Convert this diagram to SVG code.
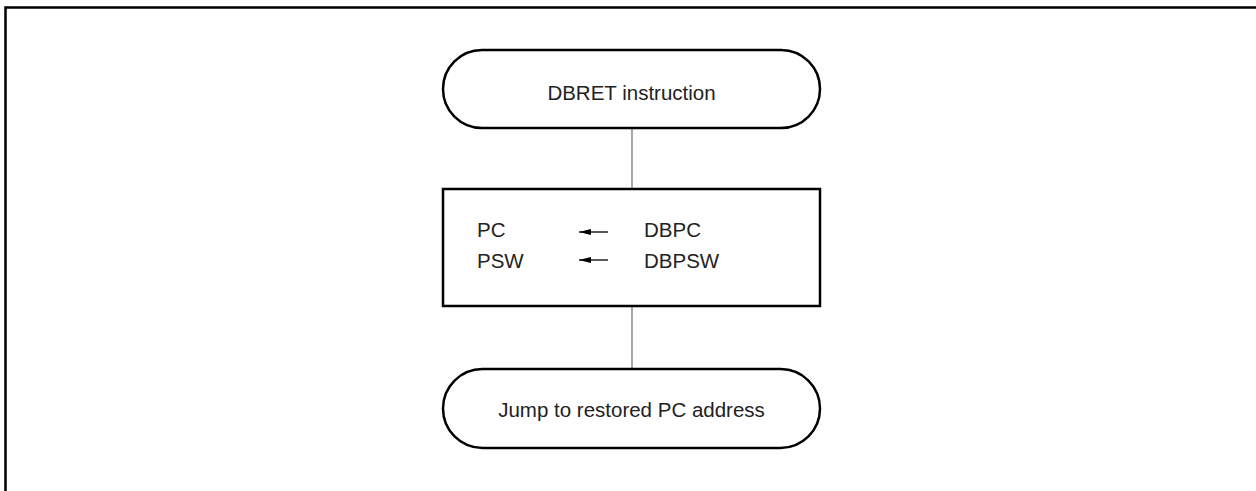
<svg xmlns="http://www.w3.org/2000/svg" width="1256" height="491" viewBox="0 0 1256 491">
<style>
.frame{fill:none;stroke:#000;stroke-width:2.5}
.box{fill:#fff;stroke:#000;stroke-width:2.5}
.conn{fill:none;stroke:#777;stroke-width:1.3}
.arr{fill:none;stroke:#000;stroke-width:1.3}
text{font-family:"Liberation Sans",Arial,sans-serif;font-size:20.5px;fill:#222}
.c{text-anchor:middle}
</style>
<defs>
<marker id="ah" markerWidth="12" markerHeight="6" refX="12" refY="3" orient="auto" markerUnits="userSpaceOnUse">
<path d="M0,0 L12,3 L0,6 Z" fill="#000"/>
</marker>
</defs>
<path class="frame" d="M5.5,491 V7.5 H1256"/>
<g id="connectors">
<line class="conn" x1="632" y1="128" x2="632" y2="189"/>
<line class="conn" x1="632" y1="306" x2="632" y2="369"/>
</g>
<g id="start">
<rect class="box" x="443" y="50" width="377" height="78" rx="39" ry="39"/>
<text class="c" x="631.5" y="100">DBRET instruction</text>
</g>
<g id="restore">
<rect class="box" x="443" y="189" width="377" height="117"/>
<text x="477" y="237">PC</text>
<text x="477" y="268">PSW</text>
<line class="arr" x1="608" y1="232" x2="579" y2="232" marker-end="url(#ah)"/>
<line class="arr" x1="608" y1="260" x2="579" y2="260" marker-end="url(#ah)"/>
<text x="644" y="237">DBPC</text>
<text x="644" y="268">DBPSW</text>
</g>
<g id="end">
<rect class="box" x="443" y="369" width="377" height="79" rx="39.5" ry="39.5"/>
<text class="c" x="631.5" y="417">Jump to restored PC address</text>
</g>
</svg>
